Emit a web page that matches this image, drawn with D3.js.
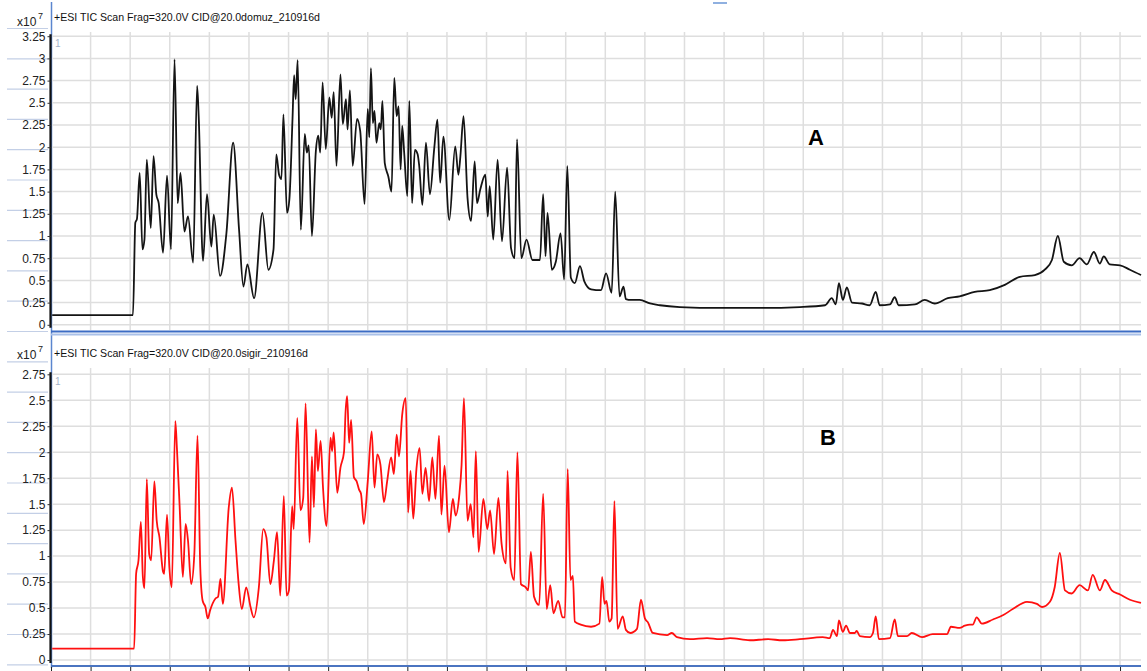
<!DOCTYPE html>
<meta charset="UTF-8">
<style>
body { margin: 0; background: #fff; }
.grid line { stroke: #dedede; stroke-width: 1.5px; }
.ytick text { font: 12px "Liberation Sans Narrow", "Arial Narrow", sans-serif; fill: #222; }
.trace { fill: none; stroke-width: 1.8px; stroke-linejoin: round; }
</style>
<body>
<script src="https://d3js.org/d3.v7.min.js"></script>
<script>

// panel titles
var titleA = "+ESI TIC Scan Frag=320.0V CID@20.0domuz_210916d";
var titleB = "+ESI TIC Scan Frag=320.0V CID@20.0sigir_210916d";

// y tick values (x10^7)
var ticksA = [0, 0.25, 0.5, 0.75, 1, 1.25, 1.5, 1.75, 2, 2.25, 2.5, 2.75, 3, 3.25];
var ticksB = [0, 0.25, 0.5, 0.75, 1, 1.25, 1.5, 1.75, 2, 2.25, 2.5, 2.75];

// x gridlines (minutes)
var xGrid = [1,2,3,4,5,6,7,8,9,10,11,12,13,14,15,16,17,18,19,20,21,22,23,24,25,26,27];

// trace A (domuz) : [time, intensity x10^7]
var traceA = [
  [0.03,0.11],[2.07,0.11],[2.13,1.15],[2.17,1.19],[2.24,1.71],[2.31,0.85],[2.36,0.96],[2.42,1.86],
  [2.52,1.09],[2.59,1.90],[2.66,1.47],[2.72,1.37],[2.83,0.81],[2.93,1.68],[3.03,0.85],[3.12,2.99],
  [3.20,1.37],[3.27,1.71],[3.37,1.05],[3.46,1.22],[3.59,0.70],[3.69,2.69],[3.73,2.35],[3.84,0.72],
  [3.94,1.47],[4.05,0.88],[4.11,1.24],[4.27,0.55],[4.43,1.03],[4.60,2.05],[4.75,1.07],[4.86,0.43],
  [4.96,0.68],[5.13,0.30],[5.34,1.26],[5.49,0.62],[5.62,0.85],[5.69,1.92],[5.76,1.69],[5.82,1.64],
  [5.87,2.37],[5.96,1.26],[6.02,1.41],[6.10,2.32],[6.14,2.81],[6.18,2.54],[6.23,2.98],[6.31,1.07],
  [6.41,2.15],[6.46,1.94],[6.51,2.02],[6.59,1.00],[6.69,1.96],[6.75,2.13],[6.80,1.94],[6.86,2.73],
  [6.94,1.98],[7.03,2.56],[7.09,2.33],[7.14,2.62],[7.21,1.79],[7.31,2.82],[7.37,2.26],[7.45,2.54],
  [7.49,2.20],[7.55,2.64],[7.62,1.79],[7.73,2.32],[7.81,2.18],[7.92,1.36],[8.00,2.43],[8.04,2.11],
  [8.08,2.89],[8.13,2.27],[8.17,2.41],[8.22,2.05],[8.29,2.27],[8.33,2.20],[8.37,2.52],[8.43,1.82],
  [8.52,1.67],[8.60,1.50],[8.67,2.78],[8.73,2.35],[8.78,2.46],[8.83,1.75],[8.87,2.24],[8.92,1.94],
  [9.00,1.45],[9.05,2.52],[9.12,1.37],[9.19,1.97],[9.26,1.92],[9.30,1.79],[9.38,1.35],[9.47,2.05],
  [9.57,1.47],[9.68,1.99],[9.76,2.31],[9.83,1.60],[9.91,2.12],[10.06,1.18],[10.21,2.01],[10.29,1.69],
  [10.34,1.90],[10.42,2.35],[10.52,1.43],[10.61,1.17],[10.70,1.84],[10.76,1.37],[10.84,1.52],[10.97,1.69],
  [11.03,1.22],[11.08,1.56],[11.17,0.96],[11.28,1.86],[11.39,0.94],[11.52,1.77],[11.62,0.86],[11.71,0.75],
  [11.77,2.09],[11.88,0.75],[12.01,0.96],[12.16,0.73],[12.35,0.73],[12.43,1.47],[12.49,0.77],[12.54,1.26],
  [12.65,0.62],[12.75,0.71],[12.87,1.03],[12.96,0.51],[13.04,1.79],[13.13,0.53],[13.23,0.47],[13.36,0.66],
  [13.47,0.49],[13.64,0.40],[13.89,0.39],[14.02,0.58],[14.16,0.36],[14.25,1.50],[14.36,0.32],[14.46,0.43],
  [14.52,0.29],[14.65,0.28],[14.87,0.28],[15.13,0.24],[15.38,0.22],[15.88,0.20],[16.89,0.19],[17.90,0.19],
  [18.91,0.20],[19.55,0.22],[19.72,0.30],[19.82,0.23],[19.90,0.47],[20.00,0.28],[20.10,0.42],[20.23,0.25],
  [20.48,0.24],[20.68,0.22],[20.83,0.37],[20.93,0.22],[21.19,0.23],[21.31,0.31],[21.41,0.22],[21.82,0.23],
  [22.07,0.28],[22.32,0.24],[22.65,0.30],[22.95,0.32],[23.33,0.37],[23.71,0.39],[24.09,0.45],[24.47,0.54],
  [24.85,0.56],[25.10,0.62],[25.28,0.73],[25.43,1.00],[25.58,0.71],[25.78,0.67],[25.98,0.75],[26.16,0.68],
  [26.34,0.82],[26.49,0.69],[26.59,0.77],[26.74,0.68],[27.00,0.67],[27.25,0.62],[27.53,0.56]
];

// trace B (sigir) : [time, intensity x10^7]
var traceB = [
  [0.03,0.11],[2.10,0.11],[2.15,0.83],[2.21,0.96],[2.27,1.33],[2.32,0.80],[2.36,0.69],[2.42,1.74],
  [2.48,1.02],[2.53,0.96],[2.61,1.72],[2.67,1.34],[2.74,1.18],[2.83,0.85],[2.86,0.83],[2.93,1.40],
  [2.99,0.89],[3.05,0.70],[3.14,2.30],[3.18,2.04],[3.25,1.47],[3.33,0.80],[3.40,1.31],[3.46,1.15],
  [3.54,0.73],[3.62,1.02],[3.70,2.16],[3.77,0.89],[3.83,0.57],[3.90,0.51],[3.96,0.40],[4.02,0.48],
  [4.15,0.59],[4.22,0.61],[4.28,0.78],[4.34,0.54],[4.49,1.47],[4.57,1.66],[4.66,1.15],[4.74,0.73],
  [4.82,0.49],[4.93,0.70],[5.04,0.51],[5.12,0.41],[5.25,0.70],[5.36,1.26],[5.44,1.18],[5.54,0.73],
  [5.63,0.96],[5.71,1.23],[5.79,0.62],[5.88,1.58],[5.95,0.62],[6.01,0.67],[6.09,1.48],[6.13,1.26],
  [6.22,2.33],[6.30,1.44],[6.37,1.56],[6.43,2.47],[6.53,1.13],[6.59,1.96],[6.64,1.47],[6.69,2.22],
  [6.74,1.82],[6.81,2.11],[6.87,1.66],[6.96,1.29],[7.06,2.14],[7.10,2.01],[7.14,2.19],[7.23,1.61],
  [7.31,1.85],[7.40,2.00],[7.44,2.39],[7.48,2.54],[7.53,2.09],[7.58,2.31],[7.65,1.76],[7.72,1.72],
  [7.78,1.64],[7.83,1.60],[7.90,1.31],[8.00,1.72],[8.10,2.20],[8.17,1.66],[8.24,1.98],[8.32,1.88],
  [8.41,1.52],[8.49,1.72],[8.59,1.95],[8.66,1.79],[8.73,2.17],[8.79,1.96],[8.87,2.36],[8.96,2.52],
  [9.02,1.42],[9.08,1.82],[9.15,1.36],[9.23,1.84],[9.31,2.04],[9.38,1.60],[9.46,1.85],[9.55,1.53],
  [9.63,1.95],[9.71,1.55],[9.80,2.16],[9.86,1.40],[9.94,1.87],[10.05,1.23],[10.15,1.55],[10.22,1.39],
  [10.31,1.58],[10.37,1.88],[10.43,2.52],[10.52,1.34],[10.60,1.50],[10.67,1.18],[10.73,2.01],[10.80,1.04],
  [10.92,1.55],[11.02,1.26],[11.09,1.44],[11.19,1.02],[11.30,1.56],[11.38,1.12],[11.49,0.93],[11.53,1.82],
  [11.61,0.89],[11.70,0.77],[11.78,2.00],[11.87,0.73],[11.99,0.70],[12.05,0.67],[12.12,1.04],[12.20,0.61],
  [12.33,0.53],[12.43,1.60],[12.52,0.49],[12.61,0.72],[12.69,0.45],[12.81,0.57],[12.92,0.41],[12.98,0.41],
  [13.05,1.84],[13.12,0.77],[13.18,0.81],[13.23,0.37],[13.38,0.34],[13.64,0.32],[13.85,0.35],[13.92,0.80],
  [13.98,0.54],[14.03,0.57],[14.10,0.37],[14.16,0.40],[14.23,1.53],[14.31,0.30],[14.44,0.42],[14.52,0.29],
  [14.63,0.26],[14.80,0.30],[14.90,0.58],[15.00,0.40],[15.08,0.36],[15.20,0.26],[15.56,0.24],[15.68,0.26],
  [15.81,0.22],[16.14,0.20],[16.57,0.21],[16.89,0.20],[17.15,0.21],[17.65,0.19],[18.11,0.20],[18.48,0.19],
  [18.91,0.20],[19.49,0.22],[19.67,0.21],[19.75,0.29],[19.85,0.23],[19.90,0.38],[20.00,0.27],[20.08,0.33],
  [20.18,0.26],[20.30,0.26],[20.35,0.28],[20.43,0.23],[20.68,0.22],[20.76,0.26],[20.83,0.42],[20.91,0.20],
  [21.19,0.21],[21.31,0.39],[21.39,0.23],[21.62,0.23],[21.74,0.26],[22.00,0.22],[22.27,0.25],[22.63,0.25],
  [22.73,0.32],[22.95,0.31],[23.08,0.33],[23.21,0.34],[23.28,0.34],[23.38,0.41],[23.51,0.35],[23.79,0.39],
  [24.04,0.43],[24.29,0.49],[24.65,0.56],[24.90,0.54],[25.03,0.51],[25.23,0.56],[25.35,0.70],[25.48,1.03],
  [25.61,0.67],[25.78,0.64],[25.98,0.72],[26.19,0.67],[26.31,0.82],[26.49,0.67],[26.62,0.77],[26.79,0.67],
  [27.00,0.63],[27.25,0.58],[27.53,0.55]
];

var width = 1147, height = 671;

var svg = d3.select("body").append("svg")
    .attr("width", width)
    .attr("height", height)
    .style("display", "block");

var x = d3.scaleLinear().domain([0, 27.53]).range([51, 1141]);

// faint ruled lines in the left margin
svg.append("g").selectAll("line")
    .data(d3.range(22))
    .enter().append("line")
    .attr("x1", 7).attr("x2", 48)
    .attr("y1", function(d) { return 28.5 + d * 30.3; })
    .attr("y2", function(d) { return 28.5 + d * 30.3; })
    .attr("stroke", "#c3cfe6").attr("stroke-width", 1.2);

// blue splitter line at the left of the plots
svg.append("line")
    .attr("x1", 51.5).attr("x2", 51.5).attr("y1", 2).attr("y2", 668)
    .attr("stroke", "#5b86cf").attr("stroke-width", 1.5);

// little handle at the top
svg.append("line")
    .attr("x1", 713).attr("x2", 727).attr("y1", 3).attr("y2", 3)
    .attr("stroke", "#8fb0e0").attr("stroke-width", 2);

function panel(opt) {
  var y = d3.scaleLinear().domain([0, opt.ymax]).range([opt.y0, opt.y1]);
  var g = svg.append("g");

  // grid
  var grid = g.append("g").attr("class", "grid");
  grid.selectAll("line.v")
      .data(xGrid)
      .enter().append("line")
      .attr("class", "v")
      .attr("x1", function(d) { return x(d); })
      .attr("x2", function(d) { return x(d); })
      .attr("y1", opt.gridTop).attr("y2", opt.gridBottom);
  grid.selectAll("line.h")
      .data(opt.ticks)
      .enter().append("line")
      .attr("class", "h")
      .attr("x1", 52).attr("x2", 1141)
      .attr("y1", function(d) { return y(d); })
      .attr("y2", function(d) { return y(d); });

  // trace
  var line = d3.line()
      .curve(d3.curveMonotoneX)
      .x(function(d) { return x(d[0]); })
      .y(function(d) { return y(d[1]); });
  g.append("path")
      .datum(opt.data)
      .attr("class", "trace")
      .attr("stroke", opt.color)
      .attr("d", line);

  // y axis
  var axis = d3.axisLeft(y)
      .tickValues(opt.ticks)
      .tickSize(3)
      .tickSizeOuter(0)
      .tickPadding(2)
      .tickFormat(function(d) { return String(d); });
  var ay = g.append("g")
      .attr("class", "ytick")
      .attr("transform", "translate(50.5,0)")
      .call(axis);
  ay.select(".domain")
      .attr("d", "M0," + (opt.y1 - 2) + "V" + (opt.y0 + 3))
      .attr("stroke", "#111").attr("stroke-width", 2.2);
  ay.selectAll(".tick line").attr("stroke", "#333");

  // x10^7 label
  g.append("text")
      .attr("x", 17).attr("y", opt.expY)
      .style("font", "12px 'Liberation Sans Narrow', 'Arial Narrow', sans-serif")
      .attr("fill", "#222")
      .text("x10");
  g.append("text")
      .attr("x", 38).attr("y", opt.expY - 7)
      .style("font", "9px 'Liberation Sans Narrow', 'Arial Narrow', sans-serif")
      .attr("fill", "#222")
      .text("7");

  // title
  g.append("text")
      .attr("x", 54).attr("y", opt.titleY)
      .attr("textLength", opt.titleLen)
      .attr("lengthAdjust", "spacingAndGlyphs")
      .style("font", "11.5px 'Liberation Sans Narrow', 'Arial Narrow', sans-serif")
      .attr("fill", "#111")
      .text(opt.title);

  // small "1" marker
  g.append("text")
      .attr("x", 55).attr("y", opt.y1 + 11)
      .style("font", "10px 'Liberation Sans', sans-serif")
      .attr("fill", "#a6b4cc")
      .text("1");

  // panel letter
  g.append("text")
      .attr("x", opt.letterX).attr("y", opt.letterY)
      .attr("text-anchor", "middle")
      .style("font", "bold 22px 'Liberation Sans', Arial, sans-serif")
      .attr("fill", "#000")
      .text(opt.letter);

  return y;
}

panel({ data: traceA, color: "#141414", ymax: 3.25, ticks: ticksA,
        y0: 324.8, y1: 36.2, gridTop: 32, gridBottom: 330,
        title: titleA, titleY: 21, titleLen: 266, expY: 26,
        letter: "A", letterX: 816, letterY: 145 });

panel({ data: traceB, color: "#ff1010", ymax: 2.75, ticks: ticksB,
        y0: 660, y1: 374.3, gridTop: 368, gridBottom: 665,
        title: titleB, titleY: 357, titleLen: 254, expY: 359,
        letter: "B", letterX: 828, letterY: 445 });

// separator between the two panels
svg.append("line")
    .attr("x1", 51).attr("x2", 1141).attr("y1", 331.5).attr("y2", 331.5)
    .attr("stroke", "#3c6cc4").attr("stroke-width", 2);
svg.append("line")
    .attr("x1", 51).attr("x2", 1141).attr("y1", 334.5).attr("y2", 334.5)
    .attr("stroke", "#a9c0e8").attr("stroke-width", 2);

// bottom x axis line and ticks
svg.append("line")
    .attr("x1", 51).attr("x2", 1141).attr("y1", 666).attr("y2", 666)
    .attr("stroke", "#4a74c0").attr("stroke-width", 2);
svg.append("g").selectAll("line")
    .data([0].concat(xGrid))
    .enter().append("line")
    .attr("x1", function(d) { return x(d) + 0.5; })
    .attr("x2", function(d) { return x(d) + 0.5; })
    .attr("y1", 667).attr("y2", 671)
    .attr("stroke", "#222").attr("stroke-width", 1);

</script>
</body>
